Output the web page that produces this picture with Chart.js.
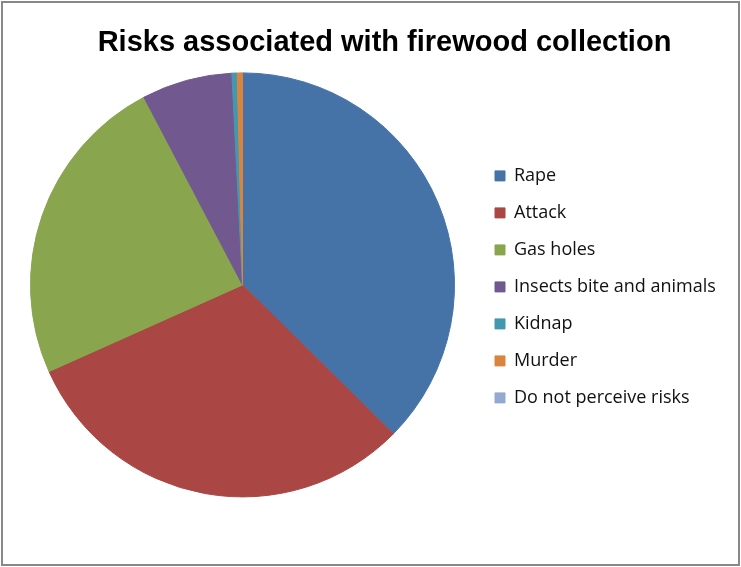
<!DOCTYPE html>
<html>
<head>
<meta charset="utf-8">
<script src="https://cdn.jsdelivr.net/npm/chart.js@4/dist/chart.umd.min.js"></script>
<style>
    html, body { margin: 0; padding: 0; background: #fff; }
    #quadro { position: relative; width: 741px; height: 567px; overflow: hidden; }
    #moldura {
        position: absolute; left: 1px; top: 1px; width: 739px; height: 565px;
        box-sizing: border-box; border: 2px solid #888; pointer-events: none;
    }
    canvas { position: absolute; left: 0; top: 0; }
</style>
</head>
<body>
<div id="quadro">
    <canvas id="graficoRiscos" width="741" height="567"></canvas>
    <div id="moldura"></div>
</div>
<script>
// dados do gráfico (percentual de respostas)
var riscos = ['Rape', 'Attack', 'Gas holes', 'Insects bite and animals', 'Kidnap', 'Murder', 'Do not perceive risks'];
var percentuais = [37.4, 30.9, 24.0, 6.9, 0.4, 0.4, 0];
var cores = ['#4572A7', '#AA4643', '#89A54E', '#71588F', '#4198AF', '#DB843D', '#93A9CF'];

// legenda com largura fixa e alinhada verticalmente com a pizza
var ajusteLegenda = {
    id: 'ajusteLegenda',
    beforeLayout: function (chart) {
        var legenda = chart.legend;
        if (legenda && !legenda._larguraFixa) {
            var fitOriginal = legenda.fit;
            legenda.fit = function () {
                fitOriginal.call(this);
                this.width = 284;
            };
            legenda._larguraFixa = true;
        }
    },
    afterLayout: function (chart) {
        var legenda = chart.legend;
        legenda.top = chart.chartArea.top + 2;
        legenda.bottom = chart.chartArea.bottom + 2;
        legenda.height = legenda.bottom - legenda.top;
    }
};

function graficoRiscos() {
    var ctx = document.getElementById('graficoRiscos').getContext('2d');

    new Chart(ctx, {
        type: 'pie',
        data: {
            labels: riscos,
            datasets: [{
                data: percentuais,
                backgroundColor: cores,
                borderColor: cores,
                borderWidth: 1,
                radius: 212
            }]
        },
        options: {
            responsive: false,
            animation: false,
            layout: {
                padding: { left: 9, right: -19, top: 0, bottom: 72 }
            },
            plugins: {
                title: {
                    display: true,
                    text: 'Risks associated with firewood collection',
                    color: '#000',
                    font: { family: '"Liberation Sans", Arial, sans-serif', size: 29, weight: 'bold' },
                    padding: { top: 26, bottom: 14 }
                },
                legend: {
                    position: 'right',
                    align: 'center',
                    labels: {
                        color: '#111',
                        boxWidth: 10,
                        boxHeight: 10,
                        padding: 19,
                        font: { family: '"Open Sans", sans-serif', size: 18 }
                    }
                },
                tooltip: { enabled: false }
            }
        },
        plugins: [ajusteLegenda]
    });
}

graficoRiscos();
</script>
</body>
</html>
